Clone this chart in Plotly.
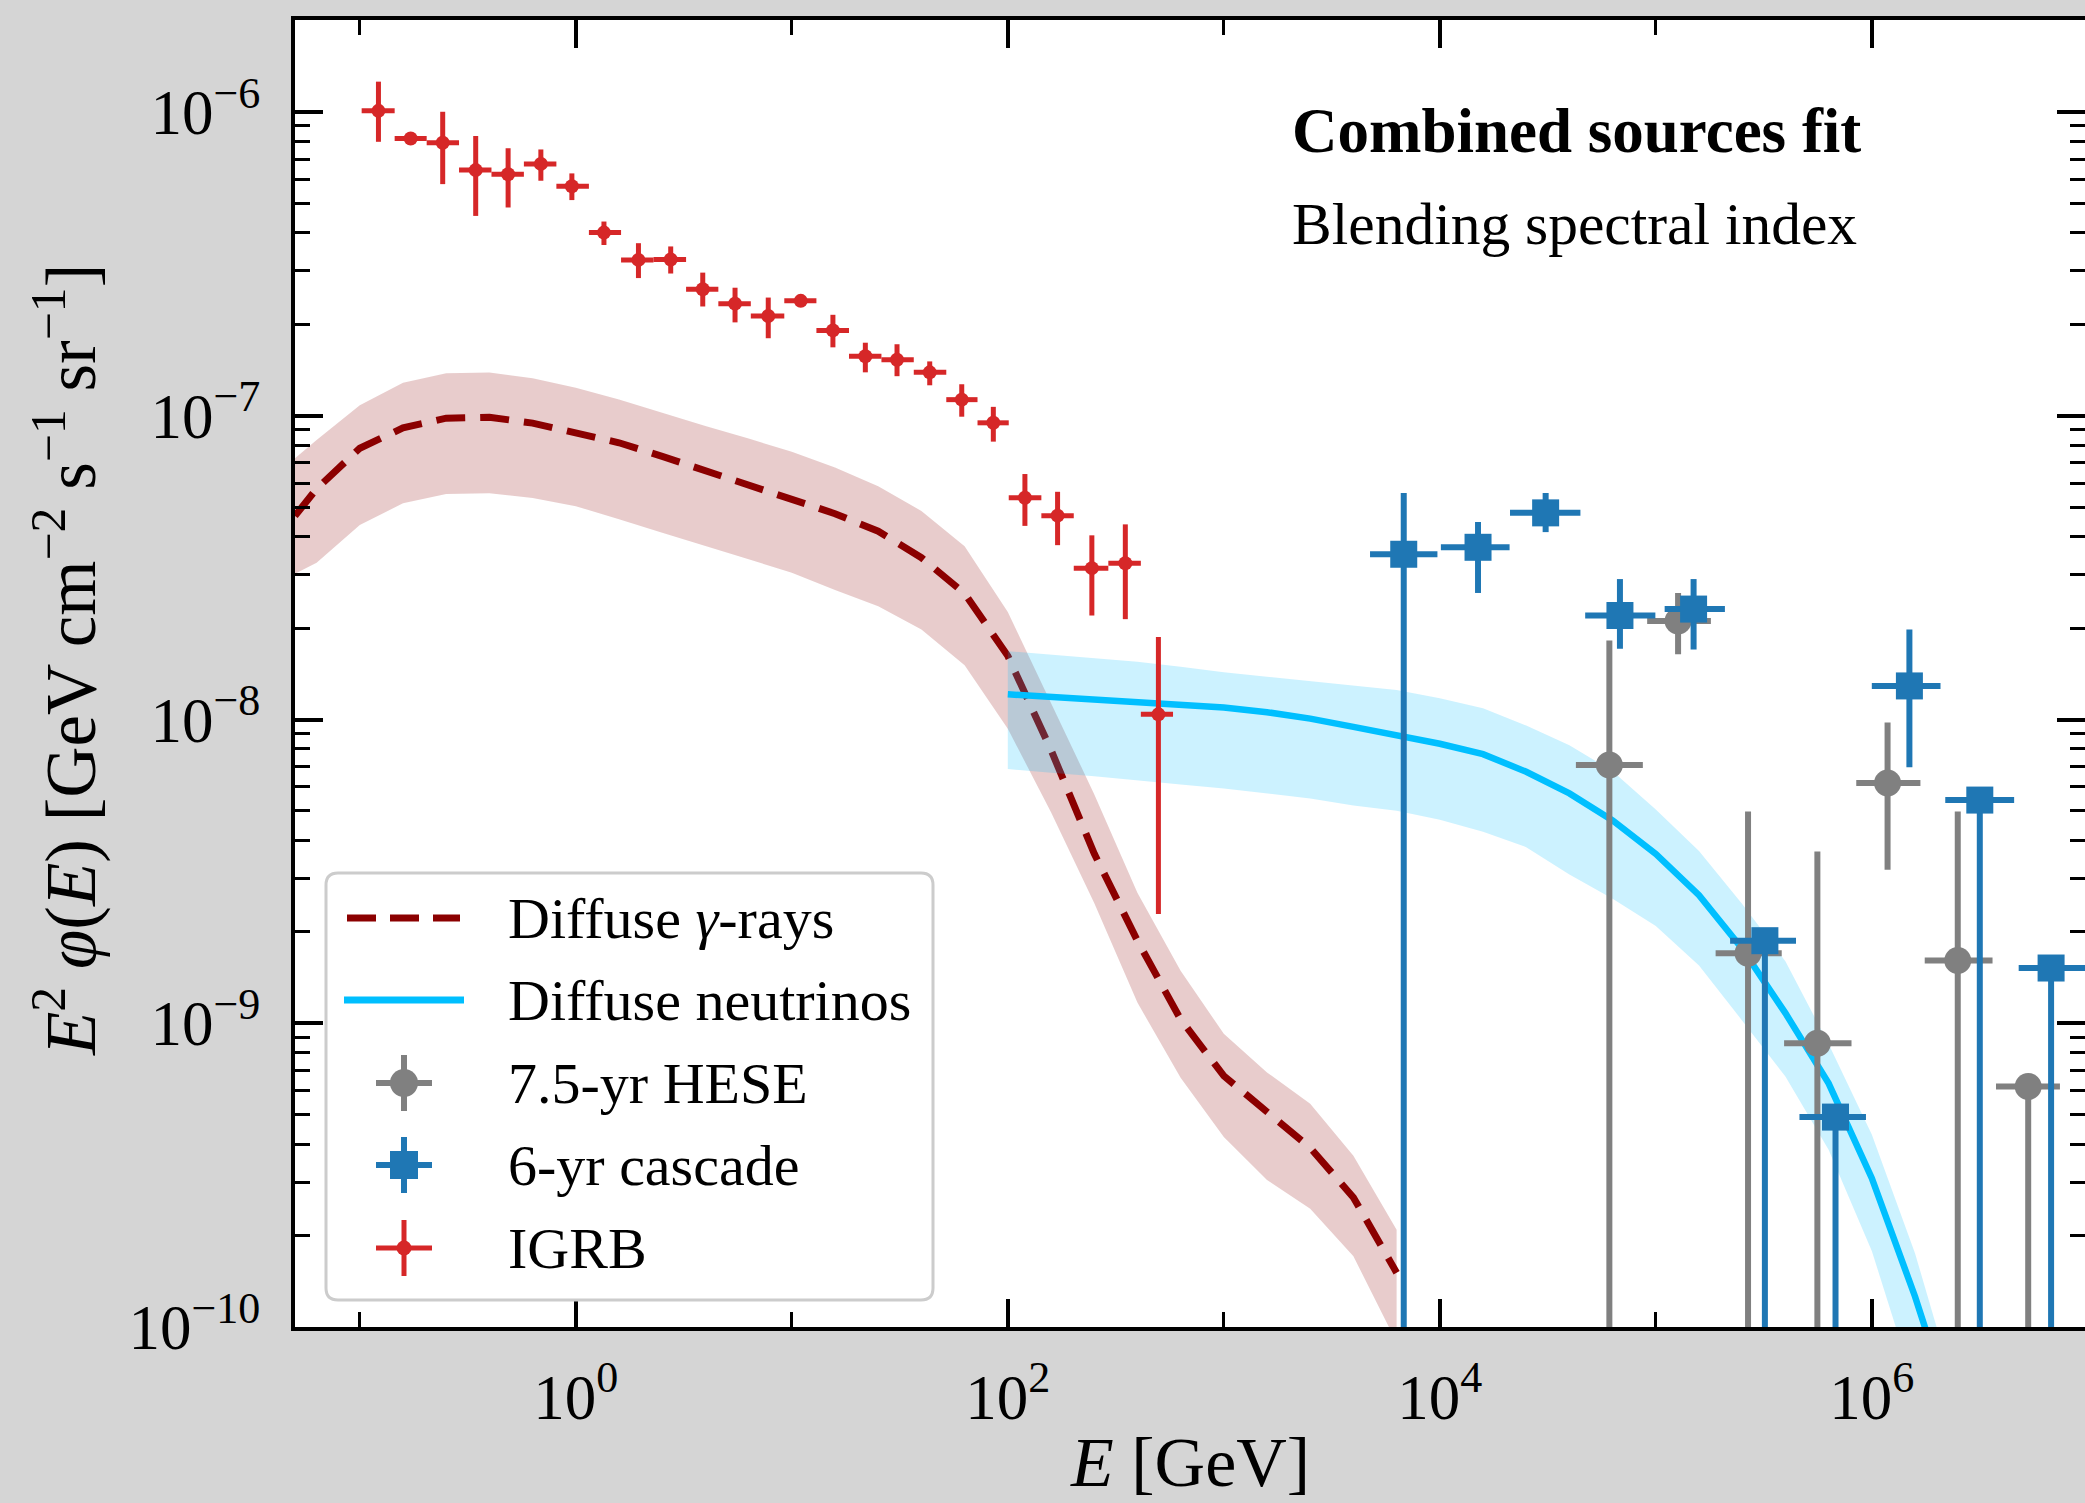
import plotly.graph_objects as go

# ---------------- data ----------------
# Diffuse gamma-ray model: energy grid [GeV], central flux, band upper / lower
gam_E = [0.0501, 0.0631, 0.1, 0.1585, 0.2512, 0.3981, 0.631, 1.0, 1.585, 2.512, 3.981, 6.31,
         10.0, 15.85, 25.12, 39.81, 63.1, 100.0, 158.5, 251.2, 398.1, 631.0, 1000.0, 1585.0,
         2512.0, 3981.0, 6310.0]
gam_mid = [4.68e-8, 5.75e-8, 7.82e-8, 9.12e-8, 9.82e-8, 9.89e-8, 9.46e-8, 8.83e-8, 8.15e-8,
           7.35e-8, 6.58e-8, 5.90e-8, 5.30e-8, 4.76e-8, 4.17e-8, 3.41e-8, 2.60e-8, 1.62e-8,
           7.94e-9, 3.62e-9, 1.87e-9, 1.03e-9, 6.71e-10, 5.13e-10, 3.89e-10, 2.67e-10, 1.51e-10]
gam_hi = [7.24e-8, 8.32e-8, 1.084e-7, 1.285e-7, 1.380e-7, 1.387e-7, 1.330e-7, 1.236e-7, 1.132e-7,
          1.023e-7, 9.25e-8, 8.41e-8, 7.62e-8, 6.75e-8, 5.86e-8, 4.86e-8, 3.72e-8, 2.26e-8,
          1.14e-8, 5.68e-9, 2.69e-9, 1.49e-9, 9.23e-10, 6.89e-10, 5.43e-10, 3.66e-10, 2.09e-10]
gam_lo = [3.02e-8, 3.28e-8, 4.37e-8, 5.15e-8, 5.53e-8, 5.56e-8, 5.36e-8, 5.04e-8, 4.56e-8,
          4.12e-8, 3.72e-8, 3.37e-8, 3.04e-8, 2.67e-8, 2.36e-8, 1.98e-8, 1.51e-8, 9.33e-9,
          4.95e-9, 2.49e-9, 1.17e-9, 6.61e-10, 4.22e-10, 3.05e-10, 2.45e-10, 1.71e-10, 8.9e-11]

# Diffuse neutrino model
nu_E = [100.0, 158.5, 251.2, 398.1, 631.0, 1000.0, 1585.0, 2512.0, 3981.0, 6310.0, 1.0e4,
        1.585e4, 2.512e4, 3.981e4, 6.31e4, 1.0e5, 1.585e5, 2.512e5, 3.981e5, 6.31e5, 1.0e6,
        1.585e6, 1.995e6]
nu_mid = [1.211e-8, 1.189e-8, 1.167e-8, 1.143e-8, 1.122e-8, 1.096e-8, 1.057e-8, 1.007e-8,
          9.46e-9, 8.91e-9, 8.32e-9, 7.69e-9, 6.73e-9, 5.71e-9, 4.65e-9, 3.61e-9, 2.64e-9,
          1.76e-9, 1.08e-9, 6.34e-10, 3.09e-10, 1.26e-10, 7.6e-11]
nu_hi = [1.679e-8, 1.637e-8, 1.596e-8, 1.549e-8, 1.493e-8, 1.432e-8, 1.384e-8, 1.337e-8,
         1.297e-8, 1.250e-8, 1.175e-8, 1.089e-8, 9.55e-9, 8.22e-9, 6.76e-9, 5.06e-9, 3.69e-9,
         2.47e-9, 1.60e-9, 8.55e-10, 4.30e-10, 1.75e-10, 1.0e-10]
nu_lo = [6.87e-9, 6.68e-9, 6.50e-9, 6.31e-9, 6.11e-9, 5.93e-9, 5.71e-9, 5.50e-9, 5.21e-9,
         5.01e-9, 4.68e-9, 4.27e-9, 3.80e-9, 3.09e-9, 2.57e-9, 2.09e-9, 1.55e-9, 1.02e-9,
         6.68e-10, 3.83e-10, 1.78e-10, 6.3e-11, 4.0e-11]

# IGRB (Fermi-LAT) points
igrb_E = [0.122, 0.172, 0.242, 0.344, 0.486, 0.689, 0.959, 1.35, 1.95, 2.75, 3.87, 5.46, 7.78,
          11.0, 15.5, 21.9, 30.7, 43.5, 61.2, 85.7, 120.0, 170.0, 245.0, 350.0, 498.0]
igrb_Elo = [0.102, 0.145, 0.204, 0.288, 0.407, 0.575, 0.813, 1.15, 1.62, 2.29, 3.24, 4.57, 6.46,
            9.23, 13.0, 18.4, 26.0, 36.7, 51.9, 72.4, 101.0, 143.0, 202.0, 292.0, 413.0]
igrb_Ehi = [0.145, 0.204, 0.288, 0.407, 0.575, 0.813, 1.15, 1.62, 2.29, 3.24, 4.57, 6.46, 9.23,
            13.0, 18.4, 26.0, 36.7, 51.9, 72.4, 101.0, 143.0, 202.0, 292.0, 413.0, 582.0]
igrb_F = [1.009e-6, 8.18e-7, 7.92e-7, 6.44e-7, 6.24e-7, 6.75e-7, 5.70e-7, 4.01e-7, 3.26e-7,
          3.27e-7, 2.61e-7, 2.34e-7, 2.13e-7, 2.39e-7, 1.91e-7, 1.57e-7, 1.53e-7, 1.39e-7,
          1.13e-7, 9.48e-8, 5.37e-8, 4.69e-8, 3.15e-8, 3.27e-8, 1.04e-8]
igrb_Fhi = [1.259e-6, 8.41e-7, 1.002e-6, 8.34e-7, 7.60e-7, 7.53e-7, 6.28e-7, 4.36e-7, 3.70e-7,
            3.61e-7, 2.96e-7, 2.64e-7, 2.45e-7, 2.44e-7, 2.15e-7, 1.74e-7, 1.72e-7, 1.51e-7,
            1.27e-7, 1.07e-7, 6.43e-8, 5.62e-8, 4.04e-8, 4.39e-8, 1.87e-8]
igrb_Flo = [7.98e-7, 7.96e-7, 5.79e-7, 4.55e-7, 4.85e-7, 5.94e-7, 5.13e-7, 3.65e-7, 2.84e-7,
            2.94e-7, 2.29e-7, 2.03e-7, 1.80e-7, 2.34e-7, 1.68e-7, 1.39e-7, 1.35e-7, 1.26e-7,
            9.93e-8, 8.22e-8, 4.34e-8, 3.75e-8, 2.20e-8, 2.14e-8, 2.29e-9]

# 7.5-yr HESE (None = lower error reaches below the axis)
hese_E = [6.095e4, 1.268e5, 2.673e5, 5.598e5, 1.183e6, 2.500e6, 5.297e6]
hese_Elo = [4.266e4, 9.12e4, 1.892e5, 3.926e5, 8.472e5, 1.758e6, 3.758e6]
hese_Ehi = [8.71e4, 1.799e5, 3.828e5, 8.054e5, 1.679e6, 3.622e6, 7.43e6]
hese_F = [7.08e-9, 2.11e-8, 1.70e-9, 8.59e-10, 6.18e-9, 1.61e-9, 6.19e-10]
hese_Fhi = [1.82e-8, 2.61e-8, 4.98e-9, 3.68e-9, 9.77e-9, 4.98e-9, 6.19e-10]
hese_Flo = [None, 1.64e-8, None, None, 3.20e-9, None, None]

# 6-yr cascade
casc_E = [6808, 1.503e4, 3.090e4, 6.823e4, 1.496e5, 3.199e5, 6.792e5, 1.493e6, 3.162e6, 6.761e6]
casc_Elo = [4753, 1.0116e4, 2.1135e4, 4.710e4, 1.099e5, 2.208e5, 4.624e5, 1.0e6, 2.188e6, 4.786e6]
casc_Ehi = [9750, 2.104e4, 4.477e4, 9.954e4, 2.089e5, 4.457e5, 9.397e5, 2.080e6, 4.560e6, 9.77e6]
casc_F = [3.50e-8, 3.69e-8, 4.79e-8, 2.20e-8, 2.31e-8, 1.87e-9, 4.91e-10, 1.29e-8, 5.43e-9, 1.52e-9]
casc_Fhi = [5.57e-8, 4.47e-8, 5.57e-8, 2.90e-8, 2.90e-8, 1.87e-9, 4.91e-10, 1.98e-8, 5.43e-9, 1.52e-9]
casc_Flo = [None, 2.61e-8, 4.14e-8, 1.71e-8, 1.70e-8, None, None, 6.97e-9, None, None]

x_major = [1e0, 1e2, 1e4, 1e6]
x_major_text = ["10<sup>0</sup>", "10<sup>2</sup>", "10<sup>4</sup>", "10<sup>6</sup>"]
x_minor = [1e-1, 1e1, 1e3, 1e5]
y_major = [1e-10, 1e-9, 1e-8, 1e-7, 1e-6]
y_major_text = ["10<sup>−10</sup>", "10<sup>−9</sup>", "10<sup>−8</sup>", "10<sup>−7</sup>", "10<sup>−6</sup>"]

legend_labels = ["Diffuse <i>γ</i>-rays", "Diffuse neutrinos", "7.5-yr HESE", "6-yr cascade", "IGRB"]

# ---------------- styling ----------------
FONT = "Liberation Serif"
C_GAM = "#8b0000"
C_NU = "#00bfff"
C_HESE = "#808080"
C_CASC = "#1f77b4"
C_IGRB = "#d62728"
BG = "#d5d5d5"
FLOOR = 1e-12

W, H = 2085, 1503
ML, MR, MT, MB = 295, 0, 20, 176
PW, PH = W - ML - MR, H - MT - MB


def px(x):
    return (x - ML) / PW


def py(y):
    return (H - MB - y) / PH


def err_y(F, Fhi, Flo):
    plus = [h - f for f, h in zip(F, Fhi)]
    minus = [f - (l if l is not None else FLOOR) for f, l in zip(F, Flo)]
    return plus, minus


def err_x(E, Elo, Ehi):
    return [h - e for e, h in zip(E, Ehi)], [e - l for e, l in zip(E, Elo)]


fig = go.Figure()

# gamma band + line
fig.add_trace(go.Scatter(x=gam_E + gam_E[::-1], y=gam_hi + gam_lo[::-1], fill="toself",
                         fillcolor="rgba(139,0,0,0.2)", line=dict(width=0), mode="lines",
                         hoverinfo="skip", showlegend=False))
fig.add_trace(go.Scatter(x=gam_E, y=gam_mid, mode="lines",
                         line=dict(color=C_GAM, width=7, dash="29px,15px"), showlegend=False))
# neutrino band + line
fig.add_trace(go.Scatter(x=nu_E + nu_E[::-1], y=nu_hi + nu_lo[::-1], fill="toself",
                         fillcolor="rgba(0,191,255,0.2)", line=dict(width=0), mode="lines",
                         hoverinfo="skip", showlegend=False))
fig.add_trace(go.Scatter(x=nu_E, y=nu_mid, mode="lines",
                         line=dict(color=C_NU, width=6.5), showlegend=False))

# data points
for E, Elo, Ehi, F, Fhi, Flo, col, sym, size, thick in [
    (hese_E, hese_Elo, hese_Ehi, hese_F, hese_Fhi, hese_Flo, C_HESE, "circle", 27, 6),
    (casc_E, casc_Elo, casc_Ehi, casc_F, casc_Fhi, casc_Flo, C_CASC, "square", 27, 6),
    (igrb_E, igrb_Elo, igrb_Ehi, igrb_F, igrb_Fhi, igrb_Flo, C_IGRB, "circle", 14, 5),
]:
    yp, ym = err_y(F, Fhi, Flo)
    xp, xm = err_x(E, Elo, Ehi)
    fig.add_trace(go.Scatter(
        x=E, y=F, mode="markers",
        marker=dict(color=col, symbol=sym, size=size, line=dict(width=0)),
        error_y=dict(type="data", symmetric=False, array=yp, arrayminus=ym,
                     color=col, thickness=thick, width=0),
        error_x=dict(type="data", symmetric=False, array=xp, arrayminus=xm,
                     color=col, thickness=thick, width=0),
        showlegend=False))

# ---------------- manual legend ----------------
shapes = []
annotations = []
bx0, bx1, by0, by1, rad = 326, 933, 873, 1300, 12
X0, X1, Y0, Y1 = px(bx0), px(bx1), py(by1), py(by0)
rx, ry = rad / PW, rad / PH
path = (f"M {X0+rx},{Y1} L {X1-rx},{Y1} Q {X1},{Y1} {X1},{Y1-ry} L {X1},{Y0+ry} "
        f"Q {X1},{Y0} {X1-rx},{Y0} L {X0+rx},{Y0} Q {X0},{Y0} {X0},{Y0+ry} "
        f"L {X0},{Y1-ry} Q {X0},{Y1} {X0+rx},{Y1} Z")
shapes.append(dict(type="path", path=path, xref="paper", yref="paper", layer="above",
                   fillcolor="rgba(255,255,255,0.85)", line=dict(color="#cccccc", width=3)))

rows = [918, 1000, 1083, 1165, 1248]
gx = 404
shapes.append(dict(type="line", xref="paper", yref="paper", layer="above",
                   x0=px(347), x1=px(460), y0=py(rows[0]), y1=py(rows[0]),
                   line=dict(color=C_GAM, width=7, dash="29px,14px")))
shapes.append(dict(type="line", xref="paper", yref="paper", layer="above",
                   x0=px(344), x1=px(464), y0=py(rows[1]), y1=py(rows[1]),
                   line=dict(color=C_NU, width=7)))
for row, col, kind, r, thick in [(rows[2], C_HESE, "circle", 14, 6),
                                 (rows[3], C_CASC, "rect", 14, 6),
                                 (rows[4], C_IGRB, "circle", 7.5, 5)]:
    shapes.append(dict(type="line", xref="paper", yref="paper", layer="above",
                       x0=px(gx - 28), x1=px(gx + 28), y0=py(row), y1=py(row),
                       line=dict(color=col, width=thick)))
    shapes.append(dict(type="line", xref="paper", yref="paper", layer="above",
                       x0=px(gx), x1=px(gx), y0=py(row - 28), y1=py(row + 28),
                       line=dict(color=col, width=thick)))
    shapes.append(dict(type=kind, xref="paper", yref="paper", layer="above",
                       x0=px(gx - r), x1=px(gx + r), y0=py(row + r), y1=py(row - r),
                       fillcolor=col, line=dict(width=0)))
for row, lab in zip(rows, legend_labels):
    annotations.append(dict(x=px(506), y=py(row), xref="paper", yref="paper",
                            text=lab, showarrow=False, xanchor="left", yanchor="middle",
                            font=dict(family=FONT, size=58, color="black")))

# in-plot titles
annotations.append(dict(x=px(1290), y=py(131), xref="paper", yref="paper",
                        text="<b>Combined sources fit</b>", showarrow=False,
                        xanchor="left", yanchor="middle",
                        font=dict(family=FONT, size=63, color="black")))
annotations.append(dict(x=px(1290), y=py(224), xref="paper", yref="paper",
                        text="Blending spectral index", showarrow=False,
                        xanchor="left", yanchor="middle",
                        font=dict(family=FONT, size=59.5, color="black")))
# axis titles
annotations.append(dict(x=0.5, y=py(1462), xref="paper", yref="paper",
                        text="<i>E</i> [GeV]", showarrow=False,
                        xanchor="center", yanchor="middle",
                        font=dict(family=FONT, size=70, color="black")))
annotations.append(dict(x=px(66), y=py(660), xref="paper", yref="paper",
                        text="<i>E</i><sup>2</sup> <i>φ</i>(<i>E</i>) [GeV cm<sup>−2</sup> s<sup>−1</sup> sr<sup>−1</sup>]",
                        showarrow=False, textangle=-90,
                        xanchor="center", yanchor="middle",
                        font=dict(family=FONT, size=71, color="black")))

y_minor = [k * 10.0 ** n for n in range(-10, -5) for k in range(2, 10) if k * 10.0 ** n < 1.9e-6]

axis_common = dict(showline=True, linecolor="black", linewidth=4, mirror="allticks",
                   ticks="inside", ticklen=28, tickwidth=3.5, tickcolor="black",
                   showgrid=False, zeroline=False,
                   tickfont=dict(family=FONT, size=63, color="black"))

fig.update_layout(
    width=W, height=H,
    margin=dict(l=ML, r=MR, t=MT, b=MB, autoexpand=False),
    paper_bgcolor=BG, plot_bgcolor="white",
    showlegend=False,
    xaxis=dict(type="log", range=[-1.3, 6.987], tickmode="array", tickvals=x_major,
               ticktext=x_major_text, ticklabelstandoff=12,
               minor=dict(tickmode="array", tickvals=x_minor, ticks="inside", ticklen=15,
                          tickwidth=3, tickcolor="black", showgrid=False),
               **axis_common),
    yaxis=dict(type="log", range=[-10, -5.697], tickmode="array", tickvals=y_major,
               ticktext=y_major_text, ticklabelstandoff=18,
               minor=dict(tickmode="array", tickvals=y_minor, ticks="inside", ticklen=15,
                          tickwidth=3, tickcolor="black", showgrid=False),
               **axis_common),
    shapes=shapes,
    annotations=annotations,
)

fig.write_html(
    "out.html",
    config={"displayModeBar": False},
    post_script=("document.body.style.margin='0px';"
                 "document.body.style.padding='0px';"
                 "document.body.style.overflow='hidden';"
                 "document.body.style.background='" + BG + "';"),
)
